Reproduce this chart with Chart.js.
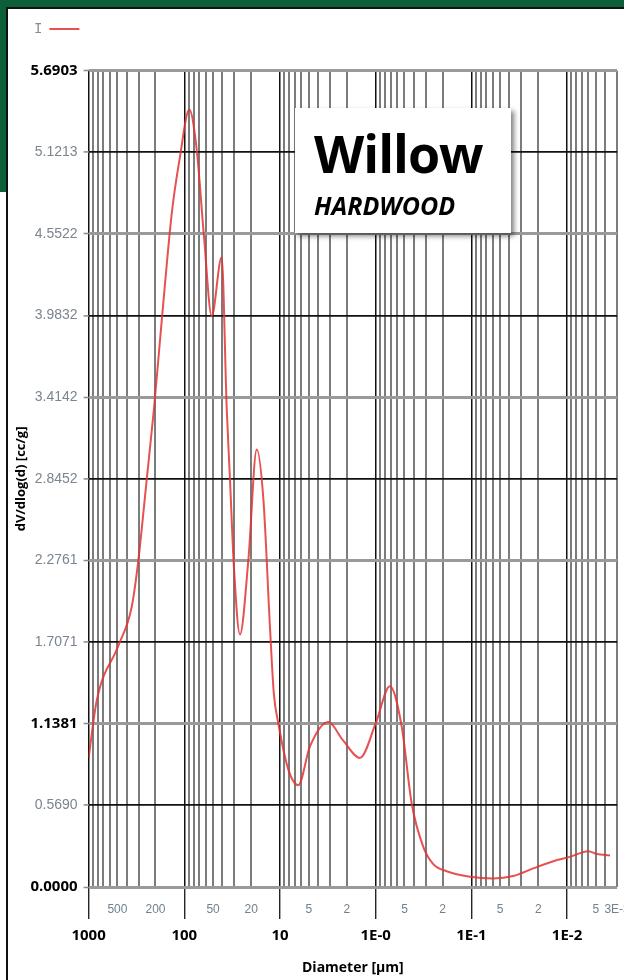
<!DOCTYPE html>
<html>
<head>
<meta charset="utf-8">
<script src="https://cdn.jsdelivr.net/npm/chart.js@4/dist/chart.umd.min.js"></script>
<style>
  html, body { margin: 0; padding: 0; background: #fff; }
  body { width: 624px; height: 980px; position: relative; overflow: hidden; font-family: "Open Sans", sans-serif; }
  .green-top { position: absolute; left: 0; top: 0; width: 624px; height: 7px; background: #0c5f38; }
  .green-left { position: absolute; left: 0; top: 0; width: 6px; height: 192px; background: #0c5f38; }
  .line-top { position: absolute; left: 6px; top: 7px; width: 618px; height: 2px; background: #111; }
  .line-left { position: absolute; left: 6px; top: 7px; width: 2px; height: 973px; background: #111; }
  #wrap { position: absolute; left: 8px; top: 9px; width: 616px; height: 971px; }
  .tag {
    position: absolute; left: 295px; top: 108px; width: 216px; height: 125px;
    background: #fff; box-shadow: 3px 3px 5px rgba(0,0,0,0.5);
  }
  .tag .name { position: absolute; left: 19px; top: 9px; line-height: 1.36; font: bold 52px "Open Sans", sans-serif; color: #000; letter-spacing: -1px; }
  .tag .kind { position: absolute; left: 19px; top: 80px; line-height: 1.36; font: italic bold 25px "Open Sans", sans-serif; color: #000; }
</style>
</head>
<body>
<div class="green-top"></div>
<div class="green-left"></div>
<div class="line-top"></div>
<div class="line-left"></div>
<div id="wrap"><canvas id="myChart" width="616" height="971"></canvas></div>
<div class="tag"><div class="name">Willow</div><div class="kind">HARDWOOD</div></div>

<script>
// pore diameter [um] and dV/dlog(d)
const diameters = [1000, 822, 490, 355, 303, 247, 207, 172, 135, 111,
  88.7, 74.2, 62.2, 51.7, 40.7, 36.0, 33.3, 30.3, 26.2, 21.4,
  17.5, 14.9, 12.7, 11.6, 10.4, 8.19, 6.44, 4.86, 3.13, 2.18,
  1.46, 1.0, 0.71, 0.535, 0.42, 0.318, 0.25, 0.181, 0.1035, 0.059,
  0.0365, 0.0226, 0.0139, 0.00933, 0.006, 0.0049, 0.00356];
const volumes = [0.90, 1.30, 1.68, 1.95, 2.27, 2.84, 3.34, 3.95, 4.70, 5.09,
  5.42, 5.14, 4.53, 3.98, 4.39, 3.33, 2.84, 2.23, 1.76, 2.28,
  3.05, 2.70, 1.80, 1.35, 1.14, 0.82, 0.71, 0.98, 1.15, 1.02,
  0.90, 1.14, 1.40, 1.12, 0.58, 0.28, 0.16, 0.11, 0.072, 0.060,
  0.077, 0.13, 0.18, 0.21, 0.25, 0.23, 0.22];

// axis ticks
const yTicks = [0, 0.5690, 1.1381, 1.7071, 2.2761, 2.8452, 3.4142, 3.9832, 4.5522, 5.1213, 5.6903];
const yBoldTicks = ["0.0000", "1.1381", "5.6903"];
const xMajorValues = [1000, 100, 10, 1, 0.1, 0.01];
const xMajorLabels = ["1000", "100", "10", "1E-0", "1E-1", "1E-2"];
const xMinorValues = [500, 200, 50, 20, 5, 2, 0.5, 0.2, 0.05, 0.02, 0.005, 0.003];
const xMinorLabels = ["500", "200", "50", "20", "5", "2", "5", "2", "5", "2", "5", "3E-3"];
const gridMultipliers = [9, 8, 7, 6, 5, 4, 3, 2, 1];

const xMin = 0.003;
const xMax = 1000;

const sameVal = (a, b) => Math.abs(Math.log10(a / b)) < 1e-6;
const isMajor = (v) => xMajorValues.some((m) => sameVal(m, v));
const minorIndex = (v) => xMinorValues.findIndex((m) => sameVal(m, v));

// grid line values, 1000 down to 0.003
let xGrid = [];
for (let e = 3; e >= -3; e--) {
  gridMultipliers.forEach((m) => {
    const v = m * Math.pow(10, e);
    if (v <= xMax * 1.0001 && v >= xMin * 0.9999) xGrid.push(v);
  });
}

const plainFont = '"Liberation Sans", sans-serif';

// tweak legend: fixed height, shifted right
const legendTweak = {
  id: "legendTweak",
  beforeInit(chart) {
    const legend = chart.legend;
    const fit = legend.fit;
    legend.fit = function () { fit.call(this); this.height = 58.7; };
    const draw = legend.draw;
    legend.draw = function () {
      const c = this.ctx;
      c.save();
      c.translate(16, 0);
      draw.apply(this, arguments);
      c.restore();
    };
  },
};

const dataChart = {
  datasets: [
    {
      label: "I",
      data: diameters.map((d, i) => ({ x: d, y: volumes[i] })),
      borderColor: "rgba(228, 50, 50, 0.85)",
      backgroundColor: "rgba(228, 50, 50, 0.85)",
      borderWidth: 2,
      pointRadius: 0,
      cubicInterpolationMode: "monotone",
      fill: false,
    },
  ],
};

const config = {
  type: "line",
  data: dataChart,
  plugins: [legendTweak],
  options: {
    responsive: false,
    animation: false,
    layout: { padding: { top: 3, right: 6.9, bottom: 0, left: 0 } },
    plugins: {
      legend: {
        display: true,
        position: "top",
        align: "end",
        rtl: true,
        labels: {
          usePointStyle: true,
          pointStyle: "line",
          pointStyleWidth: 30,
          boxHeight: 13,
          padding: 10,
          color: "#8a8a8a",
          font: { family: '"Liberation Mono", monospace', size: 14 },
        },
      },
      title: { display: false },
      tooltip: { enabled: false },
    },
    scales: {
      x: {
        type: "logarithmic",
        reverse: true,
        min: xMin,
        max: xMax,
        afterBuildTicks: (scale) => {
          scale.ticks = xGrid.map((v) => ({ value: v }));
        },
        afterFit: (scale) => {
          scale.height = 93;
          scale.paddingLeft = 0;
          scale.paddingRight = 0;
        },
        border: { display: false },
        grid: {
          drawTicks: true,
          tickLength: 32,
          color: (ctx) => (ctx.tick && isMajor(ctx.tick.value) ? "#111" : "#7c7c7c"),
          lineWidth: (ctx) => (ctx.tick && isMajor(ctx.tick.value) ? 1.5 : 2),
          tickColor: (ctx) => (ctx.tick && isMajor(ctx.tick.value) ? "#000" : "rgba(0,0,0,0)"),
          tickWidth: 1.2,
        },
        ticks: {
          autoSkip: false,
          maxRotation: 0,
          minRotation: 0,
          padding: -24,
          callback: (value) => {
            const mj = xMajorValues.findIndex((m) => sameVal(m, value));
            if (mj >= 0) return ["", xMajorLabels[mj]];
            const mi = minorIndex(value);
            if (mi >= 0) return xMinorLabels[mi];
            return "";
          },
          color: (ctx) => (ctx.tick && isMajor(ctx.tick.value) ? "#000" : "#6f8290"),
          font: (ctx) => {
            if (ctx.tick && isMajor(ctx.tick.value)) {
              return { family: '"Open Sans", sans-serif', size: 15, weight: "bold", lineHeight: "27px" };
            }
            return { family: plainFont, size: 12, lineHeight: "30px" };
          },
        },
        title: {
          display: true,
          text: "Diameter [µm]",
          color: "#000",
          font: { family: '"Open Sans", sans-serif', size: 14, weight: "bold" },
          padding: { top: 0, bottom: 4 },
        },
      },
      y: {
        type: "linear",
        min: 0,
        max: 5.6903,
        afterBuildTicks: (scale) => {
          scale.ticks = yTicks.map((v) => ({ value: v }));
        },
        afterFit: (scale) => {
          scale.width = 80.6;
          scale.paddingTop = 0;
          scale.paddingBottom = 0;
        },
        border: { display: false },
        grid: {
          tickLength: 5,
          color: (ctx) => (ctx.index % 2 === 0 ? "#9a9a9a" : "#111"),
          lineWidth: (ctx) => (ctx.index % 2 === 0 ? 3 : 1.8),
          tickColor: "#888",
          tickWidth: 1.5,
        },
        ticks: {
          padding: 6,
          callback: (value) => value.toFixed(4),
          color: (ctx) => (yBoldTicks.includes(ctx.tick.value.toFixed(4)) ? "#000" : "#7a8590"),
          font: (ctx) => {
            if (ctx.tick && yBoldTicks.includes(ctx.tick.value.toFixed(4))) {
              return { family: '"Open Sans", sans-serif', size: 15, weight: "bold" };
            }
            return { family: plainFont, size: 14 };
          },
        },
        title: {
          display: true,
          text: "dV/dlog(d) [cc/g]",
          color: "#000",
          font: { family: '"Open Sans", sans-serif', size: 13, weight: "bold" },
          padding: { top: 5, bottom: 0 },
        },
      },
    },
  },
};

const myChart = new Chart(document.getElementById("myChart"), config);
</script>
</body>
</html>
